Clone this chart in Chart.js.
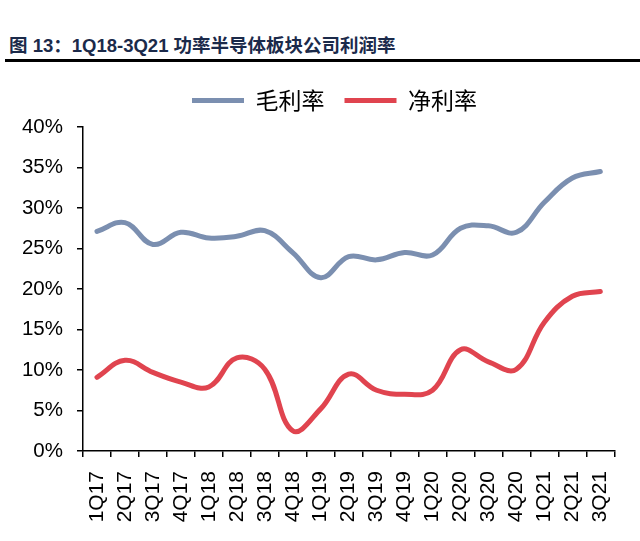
<!DOCTYPE html>
<html>
<head>
<meta charset="utf-8">
<script src="https://cdn.jsdelivr.net/npm/chart.js@4"></script>
<style>
  body { margin: 0; background: #fff; width: 640px; height: 541px; position: relative; overflow: hidden; }
  #title { position: absolute; left: 9px; top: 31px; font: bold 18.5px "Liberation Sans", "Noto Sans CJK SC", sans-serif; color: #1b2a4a; white-space: nowrap; }
  #title .cn { font-family: "Noto Sans CJK SC", sans-serif; }
  #rule { position: absolute; left: 5px; top: 59px; width: 635px; height: 3px; background: #000; }
  #wrap { position: absolute; left: 0; top: 66px; width: 640px; height: 475px; }
</style>
</head>
<body>
<div id="title"><span class="cn">图</span> 13<span class="cn">：</span>1Q18-3Q21 <span class="cn">功率半导体板块公司利润率</span></div>
<div id="rule"></div>
<div id="wrap"><canvas id="chart"></canvas></div>
<script>
const quarters = ['1Q17','2Q17','3Q17','4Q17','1Q18','2Q18','3Q18','4Q18','1Q19','2Q19',
                  '3Q19','4Q19','1Q20','2Q20','3Q20','4Q20','1Q21','2Q21','3Q21'];
const grossMargin = [27.1, 28.2, 25.5, 27.0, 26.3, 26.5, 27.2, 24.5, 21.4, 24.0,
                     23.6, 24.5, 24.2, 27.5, 27.8, 27.0, 30.7, 33.7, 34.5];
const netMargin = [9.1, 11.2, 9.7, 8.5, 7.9, 11.5, 10.1, 2.5, 5.2, 9.5,
                   7.5, 7.0, 7.5, 12.5, 11.0, 10.1, 15.9, 19.1, 19.7];
const yTicks = [0, 5, 10, 15, 20, 25, 30, 35, 40];

// legend sits a bit right of the canvas centre (and a bit higher) in the original
const shiftLegend = {
  id: 'shiftLegend',
  afterLayout(chart) {
    const lg = chart.legend;
    lg.left += 24;
    lg.right += 24;
    lg.top -= 5;
    lg.bottom -= 5;
  }
};

const ctx = document.getElementById('chart').getContext('2d');
new Chart(ctx, {
  type: 'line',
  data: {
    labels: quarters,
    datasets: [
      { label: '毛利率', data: grossMargin, borderColor: '#7b8fb0', backgroundColor: '#7b8fb0', borderWidth: 5 },
      { label: '净利率', data: netMargin, borderColor: '#e0444f', backgroundColor: '#e0444f', borderWidth: 5 }
    ]
  },
  plugins: [shiftLegend],
  options: {
    responsive: true,
    maintainAspectRatio: false,
    animation: false,
    layout: { padding: { left: 0, right: 19, top: 8, bottom: 0 } },
    elements: {
      line: { tension: 0.4, borderCapStyle: 'round' },
      point: { radius: 0 }
    },
    plugins: {
      legend: {
        labels: {
          usePointStyle: true,
          pointStyle: 'line',
          pointStyleWidth: 52,
          padding: 20,
          color: '#000',
          font: { family: '"Noto Sans CJK SC", sans-serif', size: 23 }
        }
      },
      tooltip: { enabled: false }
    },
    scales: {
      x: {
        offset: true,
        grid: { offset: true, drawOnChartArea: false, color: '#000', lineWidth: 1.5, tickLength: 6 },
        border: { color: '#000', width: 1.5 },
        ticks: {
          color: '#000', minRotation: 90, maxRotation: 90, autoSkip: false, padding: 14,
          font: { family: '"Liberation Sans", Arial, sans-serif', size: 21 }
        },
        afterFit: s => { s.height = 90; }
      },
      y: {
        min: 0,
        max: 40,
        afterBuildTicks: s => { s.ticks = yTicks.map(v => ({ value: v })); },
        grid: { drawOnChartArea: false, color: '#000', lineWidth: 1.5, tickLength: 6 },
        border: { color: '#000', width: 1.5 },
        ticks: {
          color: '#000', padding: 14,
          font: { family: '"Liberation Sans", Arial, sans-serif', size: 20.5 },
          callback: v => v + '%'
        },
        afterFit: s => { s.width = 83; }
      }
    }
  }
});
</script>
</body>
</html>
